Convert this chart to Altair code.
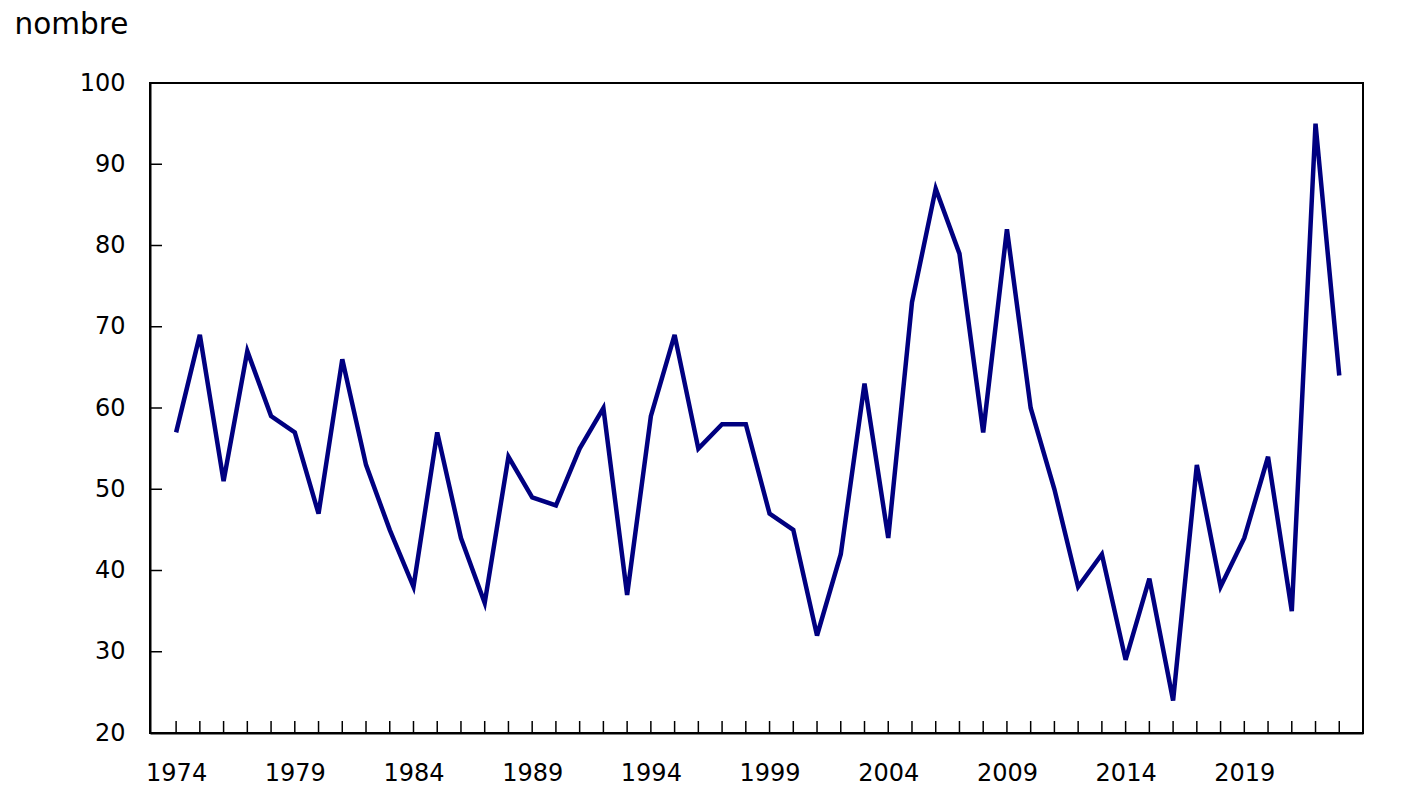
import altair as alt
import pandas as pd

years = list(range(1974, 2024))
values = [57, 69, 51, 67, 59, 57, 47, 66, 53, 45,
          38, 57, 44, 36, 54, 49, 48, 55, 60, 37,
          59, 69, 55, 58, 58, 47, 45, 32, 42, 63,
          44, 73, 87, 79, 57, 82, 60, 50, 38, 42,
          29, 39, 24, 53, 38, 44, 54, 35, 95, 64]
x_labels = [1974, 1979, 1984, 1989, 1994, 1999, 2004, 2009, 2014, 2019]
y_ticks = [20, 30, 40, 50, 60, 70, 80, 90, 100]

df = pd.DataFrame({"year": years, "value": values})
ydf = pd.DataFrame({"v": y_ticks})

FONT = "DejaVu Sans"
x_scale = alt.Scale(domain=[1972.9, 2024.0], nice=False, zero=False)
y_scale = alt.Scale(domain=[20, 100], nice=False, zero=False)

line = alt.Chart(df).mark_line(
    color="#000080", strokeWidth=4.5, strokeJoin="miter", strokeMiterLimit=4
).encode(
    x=alt.X("year:Q", scale=x_scale,
            axis=alt.Axis(values=x_labels, format="d",
                          ticks=False, grid=False, domainColor="black", domainWidth=2,
                          labelFontSize=24, labelFont=FONT, labelColor="black",
                          labelPadding=28, labelFlush=False, labelOverlap=False,
                          title=None)),
    y=alt.Y("value:Q", scale=y_scale,
            axis=alt.Axis(values=y_ticks, ticks=False, grid=False,
                          domainColor="black", domainWidth=2,
                          labelFontSize=24, labelFont=FONT, labelColor="black",
                          labelPadding=25,
                          title="nombre", titleAngle=0, titleAlign="left",
                          titleBaseline="alphabetic", titleX=-136, titleY=-50,
                          titleFontSize=29.5, titleFont=FONT, titleFontWeight="normal",
                          titleColor="black")),
)

xticks = alt.Chart(df).mark_rule(color="black", strokeWidth=1.5).encode(
    x=alt.X("year:Q", scale=x_scale),
    y=alt.value(650), y2=alt.value(638),
)

yticks = alt.Chart(ydf).mark_rule(color="black", strokeWidth=1.5).encode(
    y=alt.Y("v:Q", scale=y_scale),
    x=alt.value(0), x2=alt.value(12),
)

chart = alt.layer(line, xticks, yticks).properties(
    width=1213, height=650,
    padding={"left": 142, "top": 75, "right": 30, "bottom": 60},
    autosize=alt.AutoSizeParams(type="none"),
    background="white",
).configure_view(stroke="black", strokeWidth=2)

chart.save("out.html", embed_options={"renderer": "svg", "actions": False})
